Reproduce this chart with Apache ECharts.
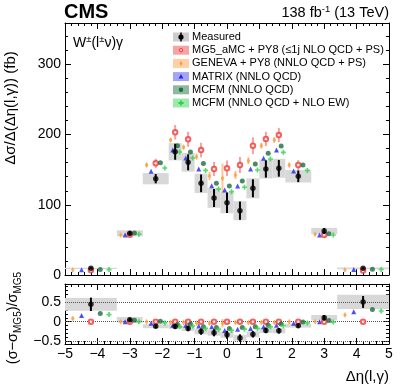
<!DOCTYPE html>
<html>
<head>
<meta charset="utf-8">
<script src="https://cdn.jsdelivr.net/npm/echarts@6/dist/echarts.min.js"></script>
<style>
html, body { margin: 0; padding: 0; background: #fff; }
#chart { width: 407px; height: 391px; }
</style>
</head>
<body>
<div id="chart"></div>
<script>
// bins in delta eta(l, gamma)
const binEdges = [-5, -3.4, -2.6, -1.8, -1.4, -1.0, -0.6, -0.2, 0.2, 0.6, 1.0, 1.4, 1.8, 2.6, 3.4, 5];

// upper panel, fb
const measured = [9.5, 59.4, 137.2, 175.6, 160.5, 130.6, 109.7, 103, 91.6, 123.5, 151, 152, 140.6, 62.7, 9.5];
const measStat = [1.2, 3, 6.6, 11.4, 11.4, 12.6, 12.8, 14.7, 13, 12.8, 12.3, 11.9, 8.3, 4.3, 1.2];
const measSyst = [1.0, 4.3, 8, 12.3, 13.3, 13.8, 14, 15, 13.5, 14.2, 13.5, 13.5, 8.8, 4.5, 1.2];
const mg5 = [6.6, 57.5, 159.1, 203.3, 193.3, 178, 151, 152, 156.7, 184.2, 193.7, 199.4, 156.7, 57, 6.3];
const mg5Err = [0.5, 2, 6.6, 10.4, 10.7, 10.4, 10, 11, 11.4, 11.9, 10.2, 10.2, 7, 2, 0.5];
const geneva = [7.2, 57, 156.7, 192.3, 182, 168.5, 141, 137.7, 142.5, 162.8, 184.2, 192.3, 156.7, 58, 7.3];
const genevaErr = [0.5, 1, 3, 3, 3, 4, 6, 21, 6, 5, 4, 4, 3, 1, 0.5];
const matrix = [7.5, 57, 147.7, 178, 166.7, 151, 127.2, 121, 126.8, 151, 166.2, 178, 148, 57, 7.8];
const mcfm = [8, 59.8, 160, 184.2, 175.2, 159, 130.6, 126.8, 134, 158, 173.4, 183.8, 156.7, 58.8, 8.3];
const mcfmEw = [7.7, 58, 152.4, 175.2, 166.7, 149, 122.5, 118.7, 125, 149.6, 165.2, 174.8, 149, 57, 8];

// lower panel, (sigma - sigma_MG5) / sigma_MG5
const rMeasured = [0.44, 0.05, -0.115, -0.12, -0.17, -0.25, -0.28, -0.33, -0.41, -0.32, -0.22, -0.23, -0.10, 0.10, 0.50];
const rMeasStat = [0.17, 0.05, 0.05, 0.06, 0.07, 0.08, 0.09, 0.1, 0.09, 0.08, 0.07, 0.07, 0.05, 0.07, 0.15];
const rMeasSyst = [0.16, 0.07, 0.05, 0.06, 0.065, 0.07, 0.075, 0.08, 0.075, 0.075, 0.065, 0.065, 0.05, 0.07, 0.18];
const rMg5 = [0, 0, 0, 0, 0, 0, 0, 0, 0, 0, 0, 0, 0, 0, 0];
const rGeneva = [0.08, 0.0, 0.0, -0.02, -0.02, -0.04, -0.04, -0.04, -0.02, -0.02, -0.02, -0.02, 0.0, 0.0, 0.17];
const rGenevaErr = [0.03, 0.01, 0.02, 0.02, 0.02, 0.025, 0.04, 0.11, 0.03, 0.03, 0.02, 0.02, 0.02, 0.01, 0.03];
const rMatrix = [0.16, 0.0, -0.04, -0.09, -0.09, -0.11, -0.13, -0.22, -0.19, -0.17, -0.13, -0.09, -0.04, 0.0, 0.25];
const rMcfm = [0.21, 0.035, 0.01, -0.07, -0.06, -0.13, -0.15, -0.17, -0.15, -0.13, -0.09, -0.06, -0.01, 0.03, 0.31];
const rMcfmEw = [0.18, 0.0, -0.03, -0.13, -0.11, -0.17, -0.19, -0.22, -0.19, -0.17, -0.13, -0.10, -0.03, -0.01, 0.27];

const FONT = '"Liberation Sans", Arial, sans-serif';

// horizontal shift of each model inside its bin (fraction of bin width)
function xsFor(shift) {
  let out = [];
  for (let i = 0; i < binEdges.length - 1; i++) {
    let c = (binEdges[i] + binEdges[i + 1]) / 2;
    let w = binEdges[i + 1] - binEdges[i];
    out.push(c + shift * w);
  }
  return out;
}

function boxSeries(xi, yi, vals, syst) {
  let data = vals.map((v, i) => [binEdges[i], binEdges[i + 1], v, syst[i]]);
  return {
    type: "custom", xAxisIndex: xi, yAxisIndex: yi, z: 1, silent: true,
    encode: { x: [0, 1], y: 2 },
    data: data,
    renderItem: function (params, api) {
      let a = api.coord([api.value(0), api.value(2) + api.value(3)]);
      let b = api.coord([api.value(1), api.value(2) - api.value(3)]);
      return {
        type: "rect",
        shape: { x: a[0], y: a[1], width: b[0] - a[0], height: b[1] - a[1] },
        style: { fill: "#d8d8d8" },
      };
    },
  };
}

function errSeries(xi, yi, xs, vals, errs, color, width, z) {
  return {
    type: "custom", xAxisIndex: xi, yAxisIndex: yi, z: z, silent: true,
    encode: { x: 0, y: 1 },
    data: xs.map((x, i) => [x, vals[i], errs[i]]),
    renderItem: function (params, api) {
      let p1 = api.coord([api.value(0), api.value(1) + api.value(2)]);
      let p2 = api.coord([api.value(0), api.value(1) - api.value(2)]);
      return {
        type: "line",
        shape: { x1: p1[0], y1: p1[1], x2: p2[0], y2: p2[1] },
        style: { stroke: color, lineWidth: width },
      };
    },
  };
}

const crossPath = "path://M1,0H2V1H3V2H2V3H1V2H0V1H1Z";

function markSeries(xi, yi, xs, vals, symbol, size, color, z, border) {
  return {
    type: "scatter", xAxisIndex: xi, yAxisIndex: yi, z: z, silent: true,
    symbol: symbol, symbolSize: size,
    itemStyle: border ? { color: color, borderColor: color, borderWidth: 1.1 } : { color: color },
    data: xs.map((x, i) => [x, vals[i]]),
  };
}

const C = {
  mg5: "#ee3b3b", mg5E: "#f6a0a0",
  gen: "#ff9a3c", genE: "#fdc995",
  mat: "#2424ee", matE: "#a0a0f5",
  mcf: "#1d6e40", mcfE: "#7fae8f",
  ew: "#2fd04c", ewE: "#93e6a3",
};

const xGen = xsFor(-0.35), xMat = xsFor(-0.18), xMg = xsFor(0), xMcf = xsFor(0.18), xEw = xsFor(0.35);

function panel(xi, yi, d) {
  let s = [];
  s.push(boxSeries(xi, yi, d.meas, d.syst));
  s.push(errSeries(xi, yi, xGen, d.gen, d.genE, C.genE, 2, 3));
  s.push(errSeries(xi, yi, xMg, d.mg, d.mgE, C.mg5E, 2, 3));
  s.push(markSeries(xi, yi, xGen, d.gen, "diamond", [3.5, 6], C.gen, 5));
  s.push(markSeries(xi, yi, xMat, d.mat, "triangle", 5, C.mat, 5));
  s.push(markSeries(xi, yi, xMg, d.mg, "emptyCircle", 4.5, C.mg5, 5, true));
  s.push(markSeries(xi, yi, xMcf, d.mcf, "circle", 5, C.mcf, 5));
  s.push(markSeries(xi, yi, xEw, d.ew, crossPath, 5, C.ew, 5));
  s.push(errSeries(xi, yi, xMg, d.meas, d.stat, "#000", 2, 6));
  s.push(markSeries(xi, yi, xMg, d.meas, "circle", 5.5, "#000", 7));
  return s;
}

const zeros = rMg5.map(() => 0);
let series = [].concat(
  panel(0, 0, {
    meas: measured, stat: measStat, syst: measSyst,
    gen: geneva, genE: genevaErr, mg: mg5, mgE: mg5Err,
    mat: matrix, mcf: mcfm, ew: mcfmEw,
  }),
  panel(2, 4, {
    meas: rMeasured, stat: rMeasStat, syst: rMeasSyst,
    gen: rGeneva, genE: rGenevaErr, mg: rMg5, mgE: zeros,
    mat: rMatrix, mcf: rMcfm, ew: rMcfmEw,
  })
);

// dotted reference lines in the ratio panel
series.push({
  type: "line", xAxisIndex: 2, yAxisIndex: 4, data: [], z: 2, silent: true,
  markLine: {
    silent: true, symbol: "none", label: { show: false },
    lineStyle: { color: "#555", type: "dotted", width: 1 },
    data: [{ yAxis: 0.5 }, { yAxis: 0 }, { yAxis: -0.5 }],
  },
});

function xAx(grid, pos, labels) {
  return {
    type: "value", gridIndex: grid, position: pos, min: -5, max: 5, interval: 1,
    axisLine: { onZero: false, lineStyle: { color: "#000", width: 1 } },
    axisTick: { inside: true, length: 6, lineStyle: { color: "#000" } },
    minorTick: { show: true, splitNumber: 5, length: 3, lineStyle: { color: "#000" } },
    splitLine: { show: false },
    axisLabel: {
      show: labels, margin: 3, color: "#000", fontSize: 14, fontFamily: FONT,
      formatter: (v) => String(v).replace("-", "\u2212"),
    },
  };
}
function yAx(grid, pos, min, max, ticks, len, labels, showLine) {
  return {
    type: "value", gridIndex: grid, position: pos, min: min, max: max,
    axisLine: { show: showLine, onZero: false, lineStyle: { color: "#000", width: 1 } },
    axisTick: { inside: true, length: len, customValues: ticks, lineStyle: { color: "#000" } },
    splitLine: { show: false },
    axisLabel: {
      show: labels, customValues: ticks, margin: 4, color: "#000", fontSize: 14, fontFamily: FONT,
      formatter: (v) => String(v).replace("-", "\u2212"),
    },
  };
}

const topMajor = [0, 100, 200, 300];
const topMinor = [20, 40, 60, 80, 120, 140, 160, 180, 220, 240, 260, 280, 320, 340];
const botMajor = [-0.5, 0, 0.5];
const botMinor = [-0.4, -0.3, -0.2, -0.1, 0.1, 0.2, 0.3, 0.4, 0.6, 0.7, 0.8, 0.9];

const option = {
  animation: false,
  backgroundColor: "#fff",
  grid: [
    { left: 65, right: 18, top: 23, height: 252 },
    { left: 65, right: 18, top: 284, height: 60 },
  ],
  xAxis: [xAx(0, "bottom", false), xAx(0, "top", false), xAx(1, "bottom", true), xAx(1, "top", false)],
  yAxis: [
    yAx(0, "left", 0, 359, topMajor, 6, true, true),
    yAx(0, "right", 0, 359, topMajor, 6, false, true),
    yAx(0, "left", 0, 359, topMinor, 3, false, false),
    yAx(0, "right", 0, 359, topMinor, 3, false, false),
    yAx(1, "left", -0.565, 0.955, botMajor, 6, true, true),
    yAx(1, "right", -0.565, 0.955, botMajor, 6, false, true),
    yAx(1, "left", -0.565, 0.955, botMinor, 3, false, false),
    yAx(1, "right", -0.565, 0.955, botMinor, 3, false, false),
  ],
  series: series,
  graphic: [],
};

// legend, drawn by hand: tinted box + marker + text
const legendRows = [
  { name: "Measured", box: "#cccccc", mark: "meas" },
  { name: "MG5_aMC + PY8 (\u22641j NLO QCD + PS)", box: "#f8a3a3", mark: "mg5" },
  { name: "GENEVA + PY8 (NNLO QCD + PS)", box: "#fdd0a6", mark: "gen" },
  { name: "MATRIX (NNLO QCD)", box: "#a4a4f6", mark: "mat" },
  { name: "MCFM (NNLO QCD)", box: "#8dba9d", mark: "mcf" },
  { name: "MCFM (NNLO QCD + NLO EW)", box: "#9ce9ac", mark: "ew" },
];
legendRows.forEach((r, i) => {
  let cy = 37 + i * 13.2;
  let cx = 181;
  option.graphic.push({ type: "rect", shape: { x: 173, y: cy - 4.5, width: 16, height: 9 }, style: { fill: r.box } });
  if (r.mark === "meas") {
    option.graphic.push({ type: "line", shape: { x1: cx, y1: cy - 4.5, x2: cx, y2: cy + 4.5 }, style: { stroke: "#000", lineWidth: 1.5 } });
    option.graphic.push({ type: "circle", shape: { cx: cx, cy: cy, r: 2.6 }, style: { fill: "#000" } });
  } else if (r.mark === "mg5") {
    option.graphic.push({ type: "circle", shape: { cx: cx, cy: cy, r: 1.7 }, style: { fill: "#fbd", stroke: C.mg5, lineWidth: 1 } });
  } else if (r.mark === "gen") {
    option.graphic.push({ type: "polygon", shape: { points: [[cx, cy - 2.6], [cx + 1.5, cy], [cx, cy + 2.6], [cx - 1.5, cy]] }, style: { fill: C.gen } });
  } else if (r.mark === "mat") {
    option.graphic.push({ type: "polygon", shape: { points: [[cx, cy - 2.6], [cx + 2.4, cy + 2], [cx - 2.4, cy + 2]] }, style: { fill: C.mat } });
  } else if (r.mark === "mcf") {
    option.graphic.push({ type: "circle", shape: { cx: cx, cy: cy, r: 2.2 }, style: { fill: C.mcf } });
  } else {
    option.graphic.push({ type: "polygon", shape: { points: [[cx - 0.9, cy - 2.6], [cx + 0.9, cy - 2.6], [cx + 0.9, cy - 0.9], [cx + 2.6, cy - 0.9], [cx + 2.6, cy + 0.9], [cx + 0.9, cy + 0.9], [cx + 0.9, cy + 2.6], [cx - 0.9, cy + 2.6], [cx - 0.9, cy + 0.9], [cx - 2.6, cy + 0.9], [cx - 2.6, cy - 0.9], [cx - 0.9, cy - 0.9]] }, style: { fill: C.ew } });
  }
  option.graphic.push({
    type: "text", x: 192, y: cy,
    style: { text: r.name, fill: "#000", font: "11px " + FONT, textAlign: "left", textVerticalAlign: "middle", align: "left", verticalAlign: "middle" },
  });
});

// titles and axis names
option.graphic.push(
  {
    type: "text", x: 64, y: 12,
    style: { text: "CMS", fill: "#000", font: "bold 20px " + FONT, textAlign: "left", textVerticalAlign: "middle", align: "left", verticalAlign: "middle" },
  },
  {
    type: "text", x: 389, y: 13,
    style: {
      text: "{a|138 fb}{u|-1}{a| (13 TeV)}", textAlign: "right", textVerticalAlign: "middle", align: "right", verticalAlign: "middle",
      rich: {
        a: { fontSize: 14.5, fontFamily: FONT, color: "#000", lineHeight: 18 },
        u: { fontSize: 9.5, fontFamily: FONT, color: "#000", lineHeight: 10, verticalAlign: "top" },
      },
    },
  },
  {
    type: "text", x: 73, y: 43,
    style: {
      text: "{a|W}{u|\u00b1}{a|(l}{u|\u00b1}{a|\u03bd)\u03b3}", textAlign: "left", textVerticalAlign: "middle", align: "left", verticalAlign: "middle",
      rich: {
        a: { fontSize: 14, fontFamily: FONT, color: "#000", lineHeight: 18 },
        u: { fontSize: 9.5, fontFamily: FONT, color: "#000", lineHeight: 10, verticalAlign: "top" },
      },
    },
  },
  {
    type: "text", x: 11, y: 108, rotation: Math.PI / 2,
    style: { text: "\u0394\u03c3/\u0394(\u0394\u03b7(l,\u03b3)) (fb)", fill: "#000", font: "15px " + FONT, textAlign: "center", textVerticalAlign: "middle", align: "center", verticalAlign: "middle" },
  },
  {
    type: "text", x: 13, y: 318, rotation: Math.PI / 2,
    style: {
      text: "{a|(\u03c3\u2212\u03c3}{d|MG5}{a|)/\u03c3}{d|MG5}", textAlign: "center", textVerticalAlign: "middle", align: "center", verticalAlign: "middle",
      rich: {
        a: { fontSize: 14.5, fontFamily: FONT, color: "#000", lineHeight: 20 },
        d: { fontSize: 10, fontFamily: FONT, color: "#000", lineHeight: 10, verticalAlign: "bottom" },
      },
    },
  },
  {
    type: "text", x: 389, y: 377,
    style: { text: "\u0394\u03b7(l,\u03b3)", fill: "#000", font: "15px " + FONT, textAlign: "right", textVerticalAlign: "middle", align: "right", verticalAlign: "middle" },
  }
);

const chart = echarts.init(document.getElementById("chart"));
chart.setOption(option);
</script>
</body>
</html>
